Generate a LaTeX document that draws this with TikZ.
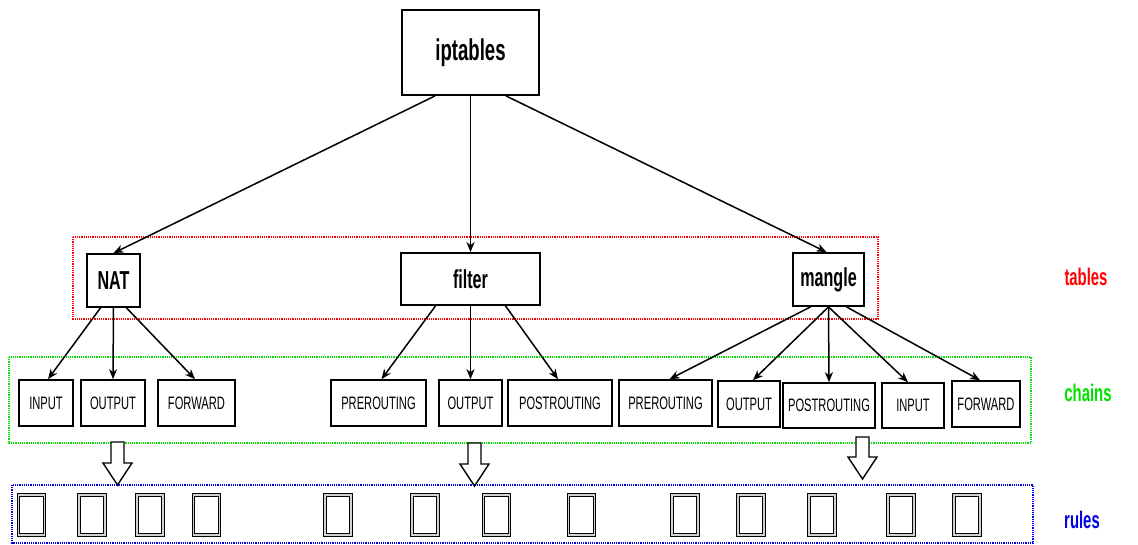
\documentclass[tikz,border=0pt]{standalone}
\usepackage{fontspec}
\newfontfamily\narrowfont{Liberation Sans}[FakeStretch=0.62]
\newfontfamily\boldnarrow{Liberation Sans Bold}[FakeStretch=0.62]
\usetikzlibrary{arrows.meta}
\definecolor{tabred}{RGB}{255,0,0}
\definecolor{chaingreen}{RGB}{0,225,0}
\definecolor{ruleblue}{RGB}{0,0,230}

\begin{document}
\begin{tikzpicture}
      [x = 1pt, y = -1pt,
      conn/.style = {-{Stealth[length = 10pt, width = 8pt, inset = 3pt]}, line width = 1.5pt},
      hollow/.style = {draw, line width = 1.4pt, fill = white},
      tablebox/.style = {
         draw,
         line width = 1.8pt,
         inner sep = 0pt,
         minimum height = 53pt,
         font = \boldnarrow\fontsize{26}{26}\selectfont
      },
      chainbox/.style = {
         draw,
         line width = 1.6pt,
         inner sep = 0pt,
         minimum height = 46pt,
         font = \narrowfont\fontsize{18}{18}\selectfont
      },
      rulebox/.style = {
         draw,
         double = gray!35,
         double distance = 1.4pt,
         line width = 0.9pt,
         minimum width = 26pt,
         minimum height = 40pt
      },
      groupbox/.style = {line width = 1.1pt, dash pattern = on 1.2pt off 1pt},
      side/.style = {font = \boldnarrow\fontsize{24}{24}\selectfont}]

      \useasboundingbox (0, 0) rectangle (1138, 544);

      % groups
      \draw[groupbox, draw = tabred] (73, 237) rectangle (878, 319);
      \draw[groupbox, draw = chaingreen] (9, 357) rectangle (1031, 443);
      \draw[groupbox, draw = ruleblue] (12, 485) rectangle (1033, 543);

      \node[side, text = tabred] (tables) at (1086, 277) {tables};
      \node[side, text = chaingreen] (chains) at (1088, 393) {chains};
      \node[side, text = ruleblue] (rules) at (1082, 520) {rules};

      % root and tables
      \node[tablebox, minimum width = 137pt, minimum height = 85pt,
         font = \boldnarrow\fontsize{30}{30}\selectfont] (top) at (470.5, 52.5) {iptables};
      \node[tablebox, minimum width = 53pt] (nat) at (113.5, 280.5) {NAT};
      \node[tablebox, minimum width = 139pt, minimum height = 52pt] (filter) at (470.5, 279) {filter};
      \node[tablebox, minimum width = 71pt] (mangle) at (828.5, 279.5) {mangle};

      % chains
      \node[chainbox, minimum width = 54pt] (natin) at (46, 403) {INPUT};
      \node[chainbox, minimum width = 64pt] (natout) at (113, 403) {OUTPUT};
      \node[chainbox, minimum width = 77pt] (natfwd) at (196.5, 403) {FORWARD};

      \node[chainbox, minimum width = 95pt] (fpre) at (378.5, 403) {PREROUTING};
      \node[chainbox, minimum width = 63pt] (fout) at (470.5, 403) {OUTPUT};
      \node[chainbox, minimum width = 104pt] (fpost) at (560, 403) {POSTROUTING};

      \node[chainbox, minimum width = 93pt] (mpre) at (665.5, 403) {PREROUTING};
      \node[chainbox, minimum width = 62pt] (mout) at (749, 404) {OUTPUT};
      \node[chainbox, minimum width = 92pt, minimum height = 45pt] (mpost) at (829, 405.5) {POSTROUTING};
      \node[chainbox, minimum width = 62pt, minimum height = 45pt] (min) at (913, 405.5) {INPUT};
      \node[chainbox, minimum width = 68pt] (mfwd) at (986, 404) {FORWARD};

      \draw[conn] ([xshift = -35.5pt]top.south) -- (nat.north);
      \draw[conn] (top.south) -- (filter.north);
      \draw[conn] ([xshift = 35.5pt]top.south) -- ([xshift = -2pt]mangle.north);

      \draw[conn] ([xshift = -13pt]nat.south) -- ([xshift = 2pt]natin.north);
      \draw[conn] (nat.south) -- (natout.north);
      \draw[conn] ([xshift = 13pt]nat.south) -- ([xshift = -1.5pt]natfwd.north);

      \draw[conn] ([xshift = -35pt]filter.south) -- ([xshift = 3pt]fpre.north);
      \draw[conn] (filter.south) -- (fout.north);
      \draw[conn] ([xshift = 35pt]filter.south) -- ([xshift = -2pt]fpost.north);

      \draw[conn] ([xshift = -18pt]mangle.south) -- ([xshift = 4pt]mpre.north);
      \draw[conn] (mangle.south) -- ([xshift = 4pt]mout.north);
      \draw[conn] (mangle.south) -- (mpost.north);
      \draw[conn] (mangle.south) -- ([xshift = -5pt]min.north);
      \draw[conn] ([xshift = 18pt]mangle.south) -- ([xshift = -6pt]mfwd.north);

      % chains down to rules
      \foreach \x/\t/\e in {117.5/442/485, 474.5/443/486, 862.5/437/479}
         \draw[hollow] ({\x - 6.5}, \t) -- ({\x + 6.5}, \t) -- ({\x + 6.5}, \e - 22)
            -- ({\x + 14.5}, \e - 22) -- (\x, \e) -- ({\x - 14.5}, \e - 22)
            -- ({\x - 6.5}, \e - 22) -- cycle;

      % rules
      \foreach \x [count = \i] in {31.5, 92, 150, 206.5, 338, 425, 496.5, 581.5, 685, 751, 822, 901, 967}
         \node[rulebox] (rule\i) at (\x, 515) {};

   \end{tikzpicture}
\end{document}
